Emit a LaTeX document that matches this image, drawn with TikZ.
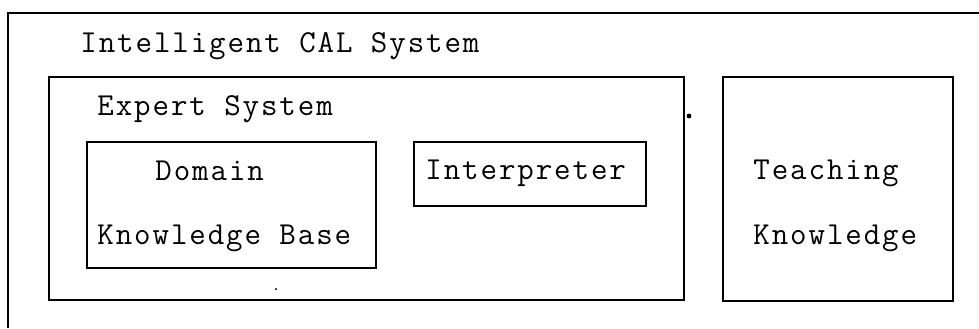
\documentclass[tikz,border=0pt]{standalone}
\usepackage{fontspec}
\setmonofont{Latin Modern Mono}[LetterSpace=6]
\begin{document}
\begin{tikzpicture}[x=0.5pt,y=-0.5pt,
  frame/.style={draw=black,line width=1pt,inner sep=0pt,anchor=north west},
  lbl/.style={font=\ttfamily\fontsize{16pt}{19pt}\selectfont,inner sep=0pt,anchor=base west}]
  % page area
  \fill[white] (0,0) rectangle (979,328);
  \useasboundingbox (0,0) rectangle (979,328);

  % outer system frame (runs off the right and bottom edges)
  \coordinate (sysbl) at (8,328);
  \coordinate (systl) at (8,13);
  \coordinate (systr) at (979,13);
  \draw[line width=1pt] (sysbl) -- (systl) -- (systr);
  \node[lbl] (systitle) at (80,52) {Intelligent CAL System};

  % expert system
  \node[frame,minimum width=317.5pt,minimum height=111.5pt] (expert) at (48,76) {};
  \node[lbl] (experttitle) at (97,115) {Expert System};

  \node[frame,minimum width=144.5pt,minimum height=63pt] (dkb) at (86,141) {};
  \node[lbl] (dkbone) at (155,180) {Domain};
  \node[lbl] (dkbtwo) at (97,244) {Knowledge Base};

  \node[frame,minimum width=116pt,minimum height=32pt] (interp) at (413,141) {};
  \node[lbl] (interptext) at (425,179) {Interpreter};

  % teaching knowledge
  \node[frame,minimum width=115pt,minimum height=112pt] (teach) at (722,76) {};
  \node[lbl] (teachone) at (753,179) {Teaching};
  \node[lbl] (teachtwo) at (753,244) {Knowledge};

  % small specks
  \fill (689,116) circle (1.2pt);
  \fill (276,289) circle (0.6pt);
\end{tikzpicture}
\end{document}
